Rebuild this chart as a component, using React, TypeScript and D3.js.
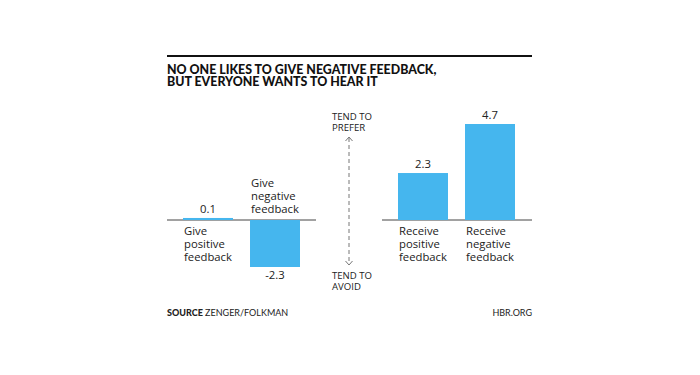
import React from "react";
import * as d3 from "d3";

const leftCats = ["Give positive feedback", "Give negative feedback"];
const leftVals = [0.1, -2.3];
const leftLabels = [["Give", "positive", "feedback"], ["Give", "negative", "feedback"]];
const rightCats = ["Receive positive feedback", "Receive negative feedback"];
const rightVals = [2.3, 4.7];
const rightLabels = [["Receive", "positive", "feedback"], ["Receive", "negative", "feedback"]];
const titleLines = ["NO ONE LIKES TO GIVE NEGATIVE FEEDBACK,", "BUT EVERYONE WANTS TO HEAR IT"];
const preferLines = ["TEND TO", "PREFER"];
const avoidLines = ["TEND TO", "AVOID"];

const BLUE = "#45b6ee";
const DARK = "#222";
const FONT = "Lato, 'Open Sans', sans-serif";
const BODY = "'Open Sans', Lato, sans-serif";

function Lines({ x, y, lines, lh, ...rest }: any) {
  return (
    <text x={x} y={y} {...rest}>
      {lines.map((l: string, j: number) => (
        <tspan key={j} x={x} dy={j === 0 ? 0 : lh}>{l}</tspan>
      ))}
    </text>
  );
}

export default function App() {
  const y = d3.scaleLinear().domain([-2.3, 4.7]).range([267, 124]);
  const xl = d3.scaleBand<string>().domain(leftCats).range([183, 300]).paddingInner(0.254).paddingOuter(0);
  const xr = d3.scaleBand<string>().domain(rightCats).range([398, 515]).paddingInner(0.254).paddingOuter(0);
  const y0 = y(0);
  const lh = 13;
  const fs = 11.3;
  const fmt = (v: number) => d3.format(".1f")(v).replace("−", "-");

  return (
    <svg width={700} height={375} style={{ position: "absolute", left: 0, top: 0, fontFamily: FONT }}>
      <rect width={700} height={375} fill="#fff" />
      <line x1={167} x2={532} y1={56} y2={56} stroke="#111" strokeWidth={2} />
      <Lines x={167} y={73.5} lines={titleLines} lh={12.5} fontSize={12.4} fontWeight={900} fill="#111" />
      {/* left group */}
      <line x1={167} x2={316} y1={y0} y2={y0} stroke="#444" strokeWidth={1} />
      {leftCats.map((c, i) => {
        const v = leftVals[i];
        const x = xl(c)!;
        const w = xl.bandwidth();
        const top = Math.min(y(v), y0);
        const h = Math.max(Math.abs(y(v) - y0), 1.5);
        return (
          <g key={c}>
            <rect x={x} y={v >= 0 ? y0 - h : y0} width={w} height={h} fill={BLUE} />
            <text x={x + w / 2} y={v >= 0 ? top - 5 : y(v) + 12} textAnchor="middle" fontSize={fs} fontFamily={BODY} fill={DARK}>{fmt(v)}</text>
            <Lines x={x + 1} y={v >= 0 ? y0 + 15 : y0 - 33} lines={leftLabels[i]} lh={lh} fontSize={fs} fontFamily={BODY} fill={DARK} />
          </g>
        );
      })}
      {/* arrow */}
      <line x1={349} x2={349} y1={138} y2={264} stroke="#777" strokeWidth={1} strokeDasharray="4,3" />
      <path d="M345.5,141 L349,137 L352.5,141" fill="none" stroke="#777" strokeWidth={1} />
      <path d="M345.5,261 L349,265 L352.5,261" fill="none" stroke="#777" strokeWidth={1} />
      <Lines x={332} y={120} lines={preferLines} lh={10.5} fontSize={9.6} fontFamily={BODY} fill={DARK} />
      <Lines x={332} y={279} lines={avoidLines} lh={10.5} fontSize={9.6} fontFamily={BODY} fill={DARK} />
      {/* right group */}
      <line x1={382} x2={532} y1={y0} y2={y0} stroke="#444" strokeWidth={1} />
      {rightCats.map((c, i) => {
        const v = rightVals[i];
        const x = xr(c)!;
        const w = xr.bandwidth();
        return (
          <g key={c}>
            <rect x={x} y={y(v)} width={w} height={y0 - y(v)} fill={BLUE} />
            <text x={x + w / 2} y={y(v) - 5} textAnchor="middle" fontSize={fs} fontFamily={BODY} fill={DARK}>{fmt(v)}</text>
            <Lines x={x + 1} y={y0 + 15} lines={rightLabels[i]} lh={lh} fontSize={fs} fontFamily={BODY} fill={DARK} />
          </g>
        );
      })}
      <text x={167} y={316} fontSize={9} fill={DARK}>
        <tspan fontWeight={900}>SOURCE</tspan> ZENGER/FOLKMAN
      </text>
      <text x={532} y={316} fontSize={9} fill={DARK} textAnchor="end">HBR.ORG</text>
    </svg>
  );
}
